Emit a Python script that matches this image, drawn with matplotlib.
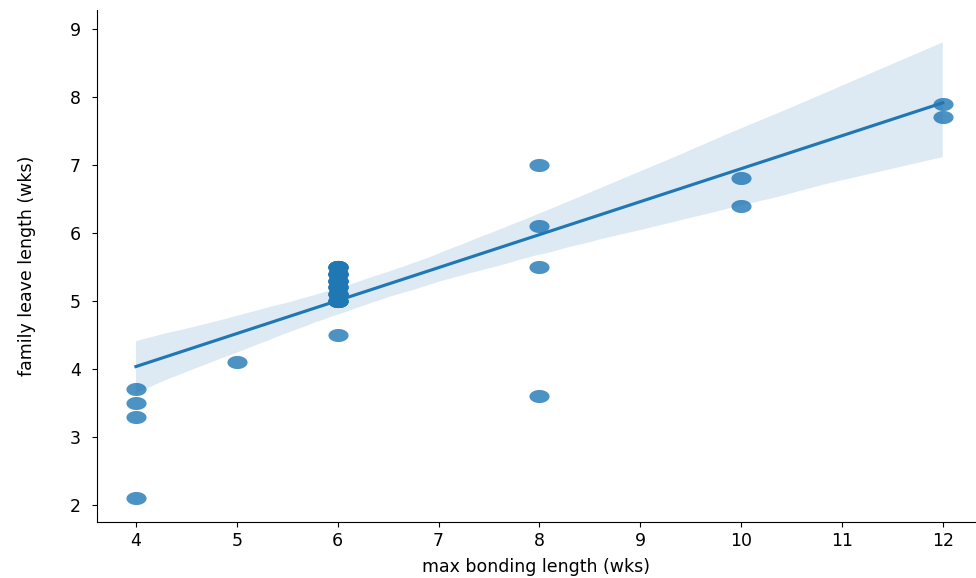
import matplotlib
matplotlib.use("Agg")
import matplotlib.pyplot as plt
from matplotlib.path import Path
import seaborn as sns
import numpy as np
import pandas as pd

# valores (o grupo em x=6 tem vários pontos sobrepostos)
cluster6 = [5.0] * 5 + [5.1] * 4 + [5.2] * 4 + [5.3] * 5 + [5.4] * 5 + [5.5] * 5
bonding = [4, 4, 4, 4, 5, 6] + [6] * len(cluster6) + [8, 8, 8, 8, 10, 10, 12, 12]
leave = [3.7, 3.5, 3.3, 2.1, 4.1, 4.5] + cluster6 + [7.0, 6.1, 5.5, 3.6, 6.8, 6.4, 7.9, 7.7]
xticks = list(range(4, 13))
yticks = list(range(2, 10))

df = pd.DataFrame({"max bonding length (wks)": bonding,
                   "family leave length (wks)": leave})

# marcador elíptico (imagem original esticada na horizontal)
t = np.linspace(0, 2 * np.pi, 60)
ellipse = Path(np.column_stack([np.cos(t), 0.65 * np.sin(t)]))

fig = plt.figure(figsize=(9.76, 5.78), dpi=100)
ax = fig.add_axes([0.099, 0.097, 0.9, 0.886])

sns.regplot(data=df, x="max bonding length (wks)", y="family leave length (wks)",
            ax=ax, seed=3, marker=ellipse, scatter_kws={"s": 210, "linewidths": 0})

ax.set_xticks(xticks)
ax.set_yticks(yticks)
ax.set_xlim(3.61, 12.32)
ax.set_ylim(1.75, 9.28)
ax.tick_params(labelsize=12.5)
ax.tick_params(axis="y", pad=8)
ax.set_xlabel("max bonding length (wks)", fontsize=12.5, labelpad=6)
ax.set_ylabel("family leave length (wks)", fontsize=12.5, labelpad=24)
ax.spines["top"].set_visible(False)
ax.spines["right"].set_visible(False)

fig.savefig("out.png", dpi=100)
